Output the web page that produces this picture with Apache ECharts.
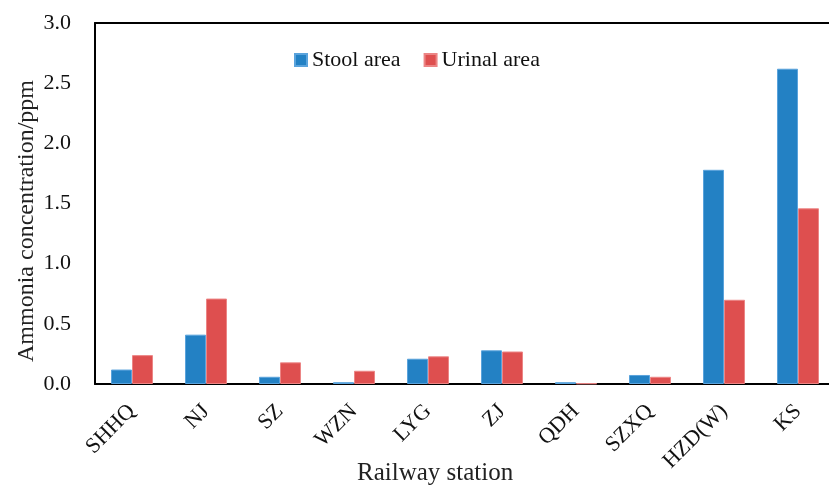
<!DOCTYPE html>
<html>
<head>
<meta charset="utf-8">
<script src="https://cdn.jsdelivr.net/npm/echarts@6/dist/echarts.min.js"></script>
<style>
  html, body { margin: 0; padding: 0; background: #fff; overflow: hidden; }
  #chart { width: 835px; height: 491px; }
</style>
</head>
<body>
<div id="chart"></div>
<script>
// Railway stations surveyed
var stations = ['SHHQ', 'NJ', 'SZ', 'WZN', 'LYG', 'ZJ', 'QDH', 'SZXQ', 'HZD(W)', 'KS'];
// Ammonia concentration (ppm) in each toilet zone
var stoolArea = [0.12, 0.41, 0.06, 0.015, 0.21, 0.28, 0.015, 0.075, 1.78, 2.62];
var urinalArea = [0.24, 0.71, 0.18, 0.11, 0.23, 0.27, 0.005, 0.06, 0.70, 1.46];
// Value axis ticks
var yTicks = [0, 0.5, 1.0, 1.5, 2.0, 2.5, 3.0];

var FONT = '"Liberation Serif", "Times New Roman", serif';

var chart = echarts.init(document.getElementById('chart'), null, { renderer: 'canvas' });
chart.setOption({
  animation: false,
  backgroundColor: '#ffffff',
  title: {
    text: 'Railway station',
    left: 352,
    top: 456,
    textStyle: { fontFamily: FONT, fontSize: 25, fontWeight: 'normal', color: '#222' }
  },
  legend: {
    data: ['Stool area', 'Urinal area'],
    left: 289,
    top: 44,
    itemWidth: 12,
    itemHeight: 12,
    itemGap: 23,
    icon: 'rect',
    textStyle: { fontFamily: FONT, fontSize: 22, color: '#111' }
  },
  graphic: [
    {
      // value axis title
      type: 'text',
      x: 27,
      y: 221,
      rotation: Math.PI / 2,
      style: {
        text: 'Ammonia concentration/ppm',
        font: '24px ' + FONT,
        fill: '#222',
        textAlign: 'center',
        textVerticalAlign: 'middle'
      }
    }
  ],
  grid: {
    left: 95,
    top: 23,
    right: 0,
    bottom: 107,
    show: false
  },
  xAxis: [
    {
      type: 'category',
      data: stations,
      axisLine: { lineStyle: { color: '#000', width: 2 } },
      axisTick: { show: false },
      axisLabel: {
        interval: 0,
        rotate: 45,
        margin: 24,
        fontFamily: FONT,
        fontSize: 22,
        color: '#111'
      }
    },
    {
      // frame line along the top of the plot
      type: 'category',
      data: stations,
      position: 'top',
      axisLine: { lineStyle: { color: '#000', width: 2 } },
      axisTick: { show: false },
      axisLabel: { show: false }
    }
  ],
  yAxis: {
    type: 'value',
    min: yTicks[0],
    max: yTicks[yTicks.length - 1],
    interval: 0.5,
    axisLine: { show: true, lineStyle: { color: '#000', width: 2 } },
    axisTick: { show: false },
    splitLine: { show: false },
    axisLabel: {
      margin: 24,
      fontFamily: FONT,
      fontSize: 22,
      color: '#111',
      formatter: function (v) { return v.toFixed(1); }
    }
  },
  series: [
    {
      name: 'Stool area',
      type: 'bar',
      data: stoolArea,
      barWidth: 21,
      barGap: '0%',
      itemStyle: { color: '#2381c4', borderColor: '#5aa3dc', borderWidth: 1 }
    },
    {
      name: 'Urinal area',
      type: 'bar',
      data: urinalArea,
      barWidth: 21,
      itemStyle: { color: '#de4f4f', borderColor: '#ec8585', borderWidth: 1 }
    }
  ]
});
</script>
</body>
</html>
